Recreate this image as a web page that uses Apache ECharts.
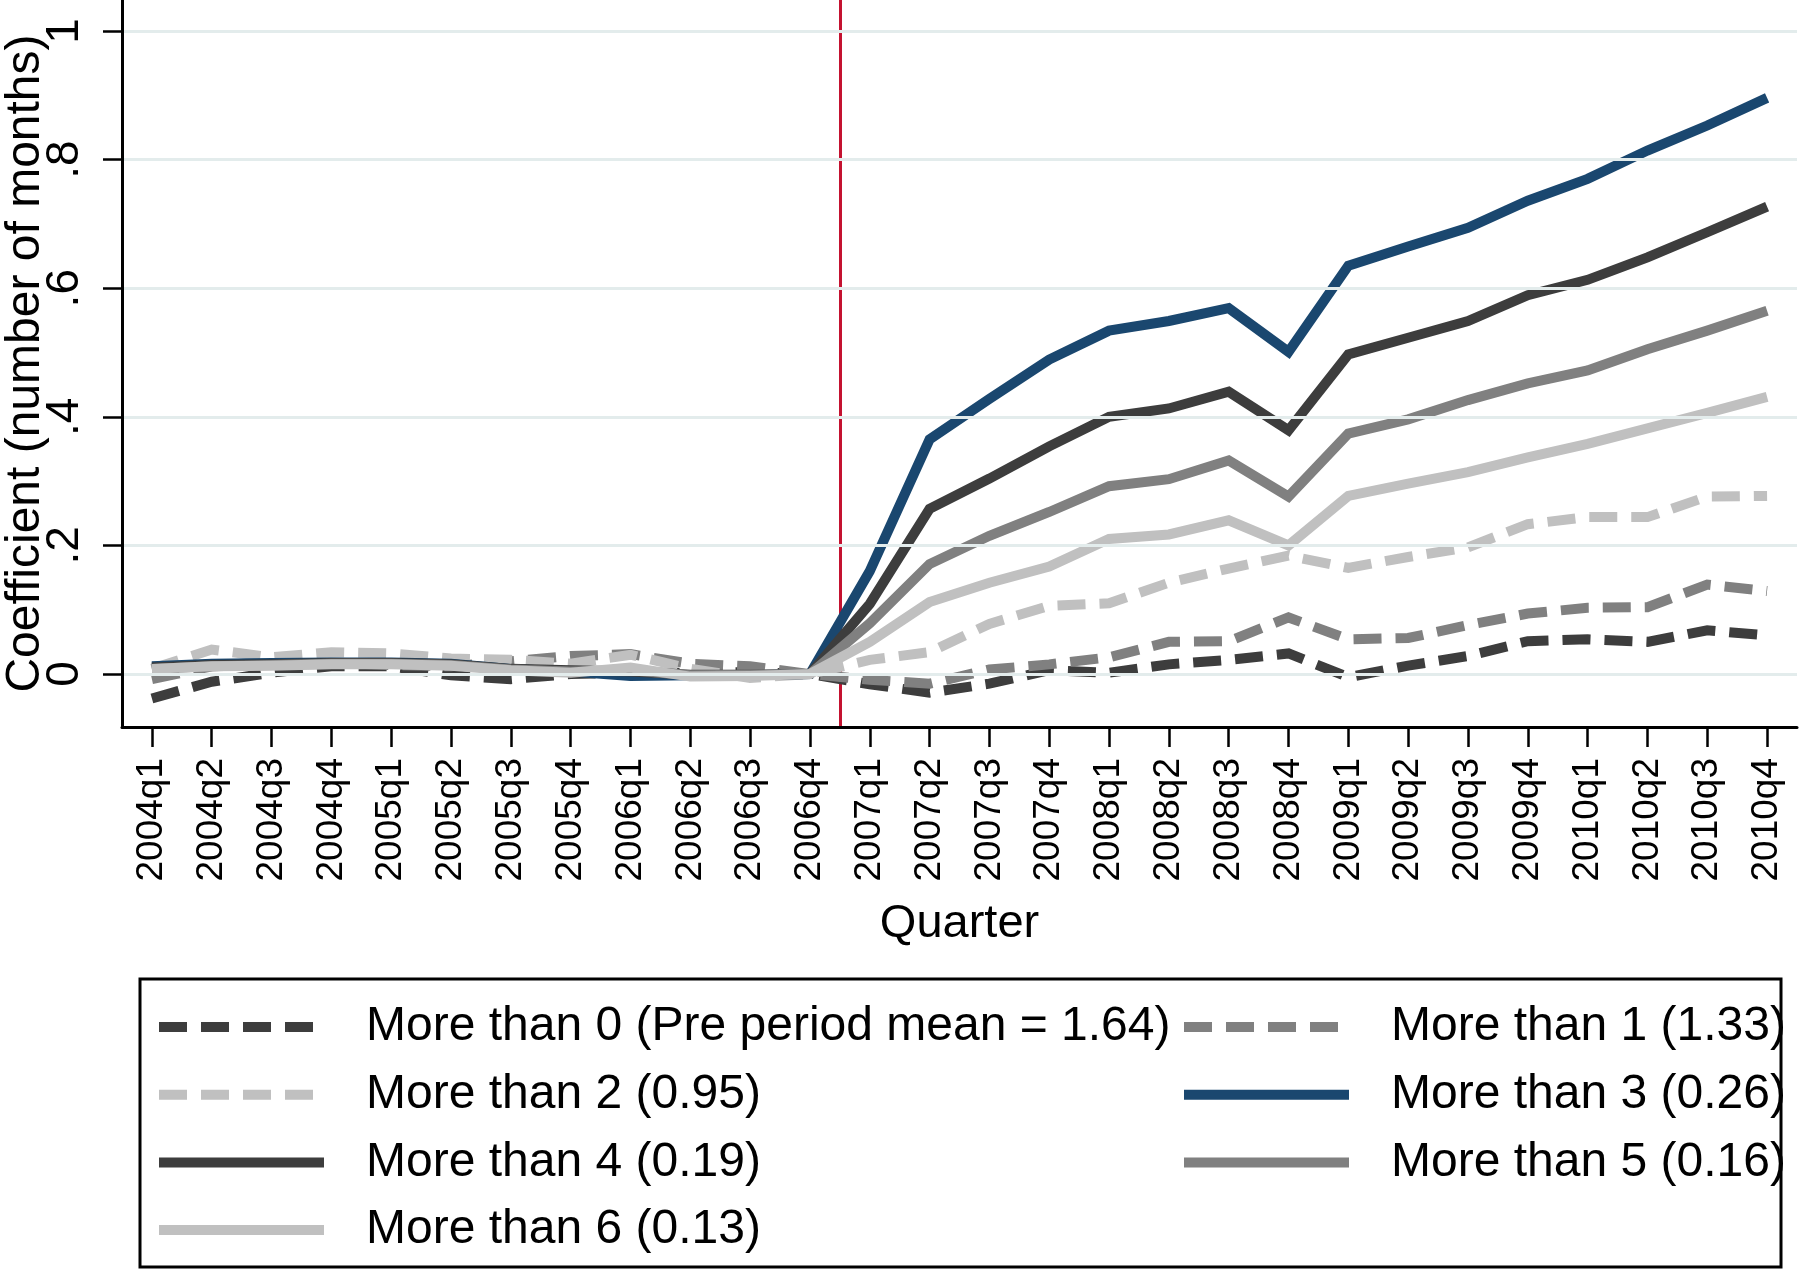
<!DOCTYPE html>
<html>
<head>
<meta charset="utf-8">
<script src="https://cdn.jsdelivr.net/npm/echarts@6/dist/echarts.min.js"></script>
<style>
html,body{margin:0;padding:0;background:#fff;}
#chart{width:1800px;height:1270px;}
</style>
</head>
<body>
<div id="chart"></div>
<script>
const quarters = ['2004q1','2004q2','2004q3','2004q4','2005q1','2005q2','2005q3','2005q4',
  '2006q1','2006q2','2006q3','2006q4','2007q1','2007q2','2007q3','2007q4',
  '2008q1','2008q2','2008q3','2008q4','2009q1','2009q2','2009q3','2009q4',
  '2010q1','2010q2','2010q3','2010q4'];

const yTickValues = [0, 0.2, 0.4, 0.6, 0.8, 1];
const yTickLabels = ['0', '.2', '.4', '.6', '.8', '1'];

const seriesNames = [
  'More than 0 (Pre period mean = 1.64)',
  'More than 1 (1.33)',
  'More than 2 (0.95)',
  'More than 3 (0.26)',
  'More than 4 (0.19)',
  'More than 5 (0.16)',
  'More than 6 (0.13)'
];

const moreThan0 = [-0.038, -0.012, 0.002, 0.012, 0.012, -0.002, -0.008, 0.000, 0.002, 0.002, 0.003, 0,
  -0.016, -0.029, -0.015, 0.006, 0.002, 0.015, 0.022, 0.032, -0.005, 0.013, 0.028, 0.051, 0.054, 0.050, 0.068, 0.060];
const moreThan1 = [-0.008, 0.012, 0.015, 0.018, 0.014, 0.012, 0.020, 0.028, 0.031, 0.016, 0.012, 0,
  -0.009, -0.015, 0.007, 0.015, 0.026, 0.050, 0.051, 0.088, 0.054, 0.056, 0.076, 0.094, 0.103, 0.104, 0.139, 0.129];
const moreThan2 = [0.008, 0.038, 0.026, 0.034, 0.032, 0.024, 0.022, 0.016, 0.030, 0.008, -0.006, 0,
  0.022, 0.034, 0.078, 0.106, 0.110, 0.142, 0.164, 0.184, 0.165, 0.182, 0.197, 0.233, 0.244, 0.244, 0.276, 0.277];
const moreThan3 = [0.012, 0.016, 0.017, 0.018, 0.018, 0.016, 0.008, 0.004, -0.003, -0.002, -0.002, 0,
  0.160, 0.365, 0.428, 0.489, 0.534, 0.549, 0.569, 0.501, 0.635, 0.665, 0.694, 0.736, 0.770, 0.814, 0.853, 0.896];
const moreThan4 = [0.010, 0.014, 0.015, 0.017, 0.017, 0.015, 0.008, 0.006, 0.004, -0.001, -0.001, 0,
  0.109, 0.257, 0.304, 0.354, 0.400, 0.413, 0.439, 0.379, 0.497, 0.523, 0.549, 0.589, 0.613, 0.648, 0.687, 0.727];
const moreThan5 = [0.008, 0.012, 0.014, 0.016, 0.016, 0.014, 0.007, 0.004, 0.006, -0.002, -0.001, 0,
  0.079, 0.171, 0.215, 0.252, 0.292, 0.303, 0.332, 0.276, 0.374, 0.396, 0.426, 0.452, 0.472, 0.505, 0.534, 0.565];
const moreThan6 = [0.008, 0.012, 0.013, 0.015, 0.015, 0.013, 0.006, 0.002, 0.010, -0.004, -0.003, 0,
  0.050, 0.112, 0.142, 0.167, 0.210, 0.217, 0.239, 0.200, 0.277, 0.296, 0.314, 0.337, 0.358, 0.382, 0.406, 0.431];

const treatmentLine = 11.5; // between 2006q4 and 2007q1

const FONT = 'Liberation Sans, Arial, Helvetica, sans-serif';
const DASH = [28, 14];
const styles = [
  {color: '#3d3d3d', dash: DASH},
  {color: '#808080', dash: DASH},
  {color: '#c0c0c0', dash: DASH},
  {color: '#1a476f', dash: 'solid'},
  {color: '#3d3d3d', dash: 'solid'},
  {color: '#808080', dash: 'solid'},
  {color: '#c0c0c0', dash: 'solid'}
];
const allData = [moreThan0, moreThan1, moreThan2, moreThan3, moreThan4, moreThan5, moreThan6];

const series = allData.map((arr, k) => {
  const s = {
    name: seriesNames[k],
    type: 'line',
    data: arr.map((v, i) => [i, v]),
    symbol: 'none',
    showSymbol: false,
    z: 3,
    lineStyle: {color: styles[k].color, width: 10, type: styles[k].dash, join: 'miter', cap: 'butt'},
    itemStyle: {color: styles[k].color},
    emphasis: {disabled: true}
  };
  if (k === 0) {
    s.markLine = {
      silent: true,
      symbol: 'none',
      label: {show: false},
      lineStyle: {color: '#c41230', width: 3, type: 'solid'},
      data: [{xAxis: treatmentLine}],
      z: 1
    };
  }
  return s;
});

const xTickValues = quarters.map((q, i) => i);

const legendCommon = {
  orient: 'vertical',
  top: 999,
  padding: 0,
  itemWidth: 165,
  itemHeight: 11,
  itemGap: 11.7,
  selectedMode: false,
  lineStyle: {width: 10},
  itemStyle: {opacity: 0, borderWidth: 0},
  textStyle: {fontFamily: FONT, fontSize: 48, lineHeight: 56, color: '#000', padding: [0, 0, 0, 37]}
};

const chart = echarts.init(document.getElementById('chart'), null, {renderer: 'canvas'});
chart.setOption({
  animation: false,
  backgroundColor: '#ffffff',
  grid: {left: 122, right: 3, top: 0, height: 727, containLabel: false, outerBoundsMode: 'none'},
  xAxis: {
    type: 'value',
    min: -0.5,
    max: 27.5,
    z: 5,
    name: 'Quarter',
    nameLocation: 'middle',
    nameGap: 174,
    nameTextStyle: {fontFamily: FONT, fontSize: 47, color: '#000'},
    axisLine: {show: true, onZero: false, lineStyle: {color: '#000', width: 3}},
    axisTick: {show: true, inside: false, length: 20, lineStyle: {color: '#000', width: 2.5}, customValues: xTickValues},
    axisLabel: {show: true, rotate: 90, margin: 31, fontFamily: FONT, fontSize: 37, color: '#000',
      customValues: xTickValues, formatter: v => quarters[Math.round(v)]},
    splitLine: {show: false}
  },
  yAxis: {
    type: 'value',
    min: -0.0824,
    max: 1.0482,
    z: 4,
    name: 'Coefficient (number of months)',
    nameLocation: 'middle',
    nameGap: 72,
    nameMoveOverlap: false,
    nameTextStyle: {fontFamily: FONT, fontSize: 48, color: '#000'},
    axisLine: {show: true, onZero: false, lineStyle: {color: '#000', width: 3}},
    axisTick: {show: true, inside: false, length: 19, lineStyle: {color: '#000', width: 2.5}, customValues: yTickValues},
    axisLabel: {show: true, rotate: 90, margin: 34, fontFamily: FONT, fontSize: 46, color: '#000',
      customValues: yTickValues, formatter: v => {
        const idx = yTickValues.findIndex(t => Math.abs(t - v) < 1e-6);
        return idx >= 0 ? yTickLabels[idx] : '';
      }},
    splitLine: {show: true, lineStyle: {color: '#e3ecec', width: 3}}
  },
  legend: [
    Object.assign({}, legendCommon, {left: 154, data: [seriesNames[0], seriesNames[2], seriesNames[4], seriesNames[6]]}),
    Object.assign({}, legendCommon, {left: 1179, data: [seriesNames[1], seriesNames[3], seriesNames[5]]})
  ],
  graphic: [{
    type: 'rect',
    shape: {x: 140, y: 979, width: 1641, height: 288},
    style: {fill: 'none', stroke: '#000', lineWidth: 3},
    silent: true,
    z: 10
  }],
  series: series
});
</script>
</body>
</html>
